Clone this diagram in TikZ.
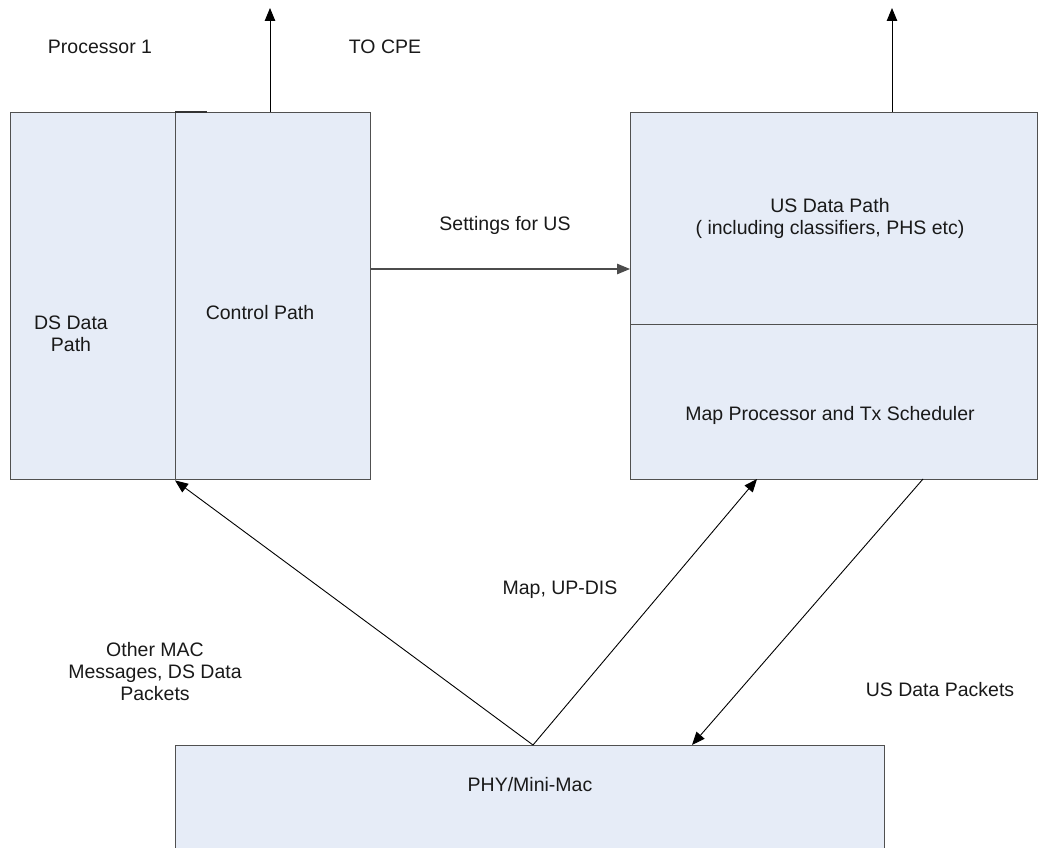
\documentclass[tikz,border=0pt]{standalone}
\usepackage{fontspec}
\setmainfont{Liberation Sans}
\usetikzlibrary{arrows.meta,calc}
\definecolor{boxfill}{HTML}{E6ECF7}
\definecolor{boxline}{HTML}{505050}
\begin{document}
\begin{tikzpicture}[x=1pt,y=-1pt,
  box/.style={draw=boxline,line width=1.4pt,fill=boxfill,inner sep=0pt,anchor=north west},
  lbl/.style={font=\fontsize{19.5}{22}\selectfont,align=center,inner sep=0pt,text=black!90},
  arr/.style={draw=black,line width=0.9pt,-{Triangle[length=13pt,width=10.5pt]}},
  ln/.style={draw=black,line width=0.9pt}]
\useasboundingbox (0,0) rectangle (1050,848);
% boxes
\node[box,minimum width=165pt,minimum height=367pt] (ds) at (10,112) {};
\node[box,minimum width=195pt,minimum height=367pt] (ctrl) at (175,112) {};
\node[box,minimum width=407pt,minimum height=212pt] (usdp) at (630,112) {};
\node[box,minimum width=407pt,minimum height=155pt] (map) at (630,324) {};
\node[box,minimum width=709pt,minimum height=140pt] (phy) at (175,745) {};
\draw[black!80,line width=1.4pt] (ctrl.north west) -- ++(32,0);
% labels
\node[lbl] (tp1) at (100,47) {Processor 1};
\node[lbl] (tcpe) at (385,47) {TO CPE};
\node[lbl] (tds) at (71,334) {DS Data\\Path};
\node[lbl] (tctrl) at (260,313) {Control Path};
\node[lbl] (tset) at (505,225) {Settings for US};
\node[lbl] (tusdp) at (830,218) {US Data Path\\( including classifiers, PHS etc)};
\node[lbl] (tmap) at (830,415) {Map Processor and Tx Scheduler};
\node[lbl] (tupd) at (560,590) {Map, UP-DIS};
\node[lbl] (tother) at (155,672) {Other MAC\\Messages, DS Data\\Packets};
\node[lbl] (tuspk) at (940,690) {US Data Packets};
\node[lbl] (tphy) at (530,785) {PHY/Mini-Mac};
% connectors
\coordinate (cpe) at (270,8);
\coordinate (us) at (892,8);
\coordinate (sy) at (0,269);
\coordinate (apex) at (533,745);
\coordinate (mup) at (757,479);
\coordinate (mdn) at (923,479);
\coordinate (pin) at (692,745);
\draw[arr] (cpe |- ctrl.north) -- (cpe);
\draw[arr] (us |- usdp.north) -- (us);
\draw[arr,draw=black!70,line width=1.2pt] (ctrl.east |- sy) -- (usdp.west |- sy);
\draw[arr] (apex) -- (ctrl.south west);
\draw[arr] (apex) -- (mup);
\draw[arr] (mdn) -- (pin);
\end{tikzpicture}
\end{document}
